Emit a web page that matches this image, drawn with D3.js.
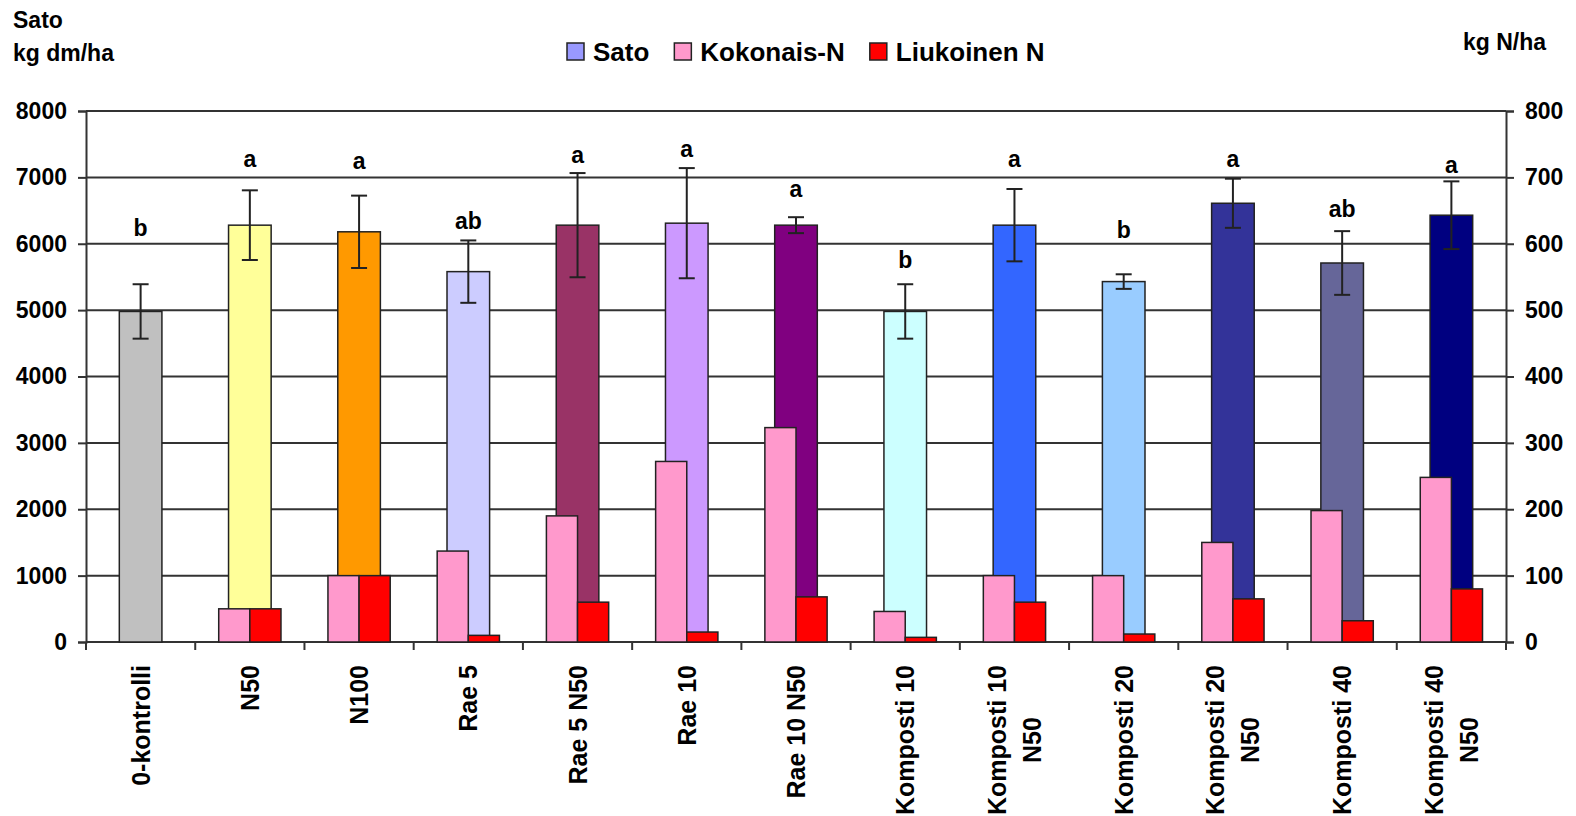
<!DOCTYPE html>
<html>
<head>
<meta charset="utf-8">
<script src="https://cdn.jsdelivr.net/npm/d3@7"></script>
<style>
  body { margin: 0; background: #fff; }
  text { font-family: "Liberation Sans", Arial, sans-serif; font-weight: bold; fill: #000; }
</style>
</head>
<body>
<svg id="chart" width="1576" height="816"></svg>
<script>
// treatments (x labels, "|" = line break)
var treatments = ["0-kontrolli", "N50", "N100", "Rae 5", "Rae 5 N50", "Rae 10", "Rae 10 N50",
  "Komposti 10", "Komposti 10|N50", "Komposti 20", "Komposti 20|N50", "Komposti 40", "Komposti 40|N50"];

// yield, kg dm/ha (left axis)
var sato = [4980, 6280, 6180, 5580, 6280, 6310, 6280, 4980, 6280, 5430, 6610, 5710, 6430];
var satoErr = [410, 525, 545, 470, 785, 830, 120, 410, 545, 110, 370, 480, 510];
var letters = ["b", "a", "a", "ab", "a", "a", "a", "b", "a", "b", "a", "ab", "a"];
var letterAt = [6230, 7280, 7250, 6350, 7340, 7430, 6830, 5750, 7280, 6210, 7280, 6530, 7190];

// nitrogen, kg N/ha (right axis)
var kokonaisN = [0, 50, 100, 137, 190, 272, 323, 46, 100, 100, 150, 198, 248];
var liukoinenN = [0, 50, 100, 10, 60, 15, 68, 7, 60, 12, 65, 32, 80];

var satoColors = ["#C0C0C0", "#FFFF99", "#FF9900", "#CCCCFF", "#993366", "#CC99FF", "#800080",
  "#CCFFFF", "#3366FF", "#99CCFF", "#333399", "#666699", "#000080"];

var leftTicks = [0, 1000, 2000, 3000, 4000, 5000, 6000, 7000, 8000];
var rightTicks = [0, 100, 200, 300, 400, 500, 600, 700, 800];

var svg = d3.select("#chart");
var plotLeft = 86, plotRight = 1506, plotTop = 111, plotBottom = 642;

var x = d3.scaleBand().domain(d3.range(treatments.length)).range([plotLeft, plotRight]).padding(0);
var y = d3.scaleLinear().domain([0, 8000]).range([plotBottom, plotTop]);
var y2 = d3.scaleLinear().domain([0, 800]).range([plotBottom, plotTop]);
var bw = x.bandwidth();
var satoW = bw * 0.39, nW = bw * 0.285;

// gridlines
svg.append("g").selectAll("line").data(leftTicks.slice(1)).enter().append("line")
  .attr("x1", plotLeft).attr("x2", plotRight)
  .attr("y1", function(d) { return y(d); }).attr("y2", function(d) { return y(d); })
  .attr("stroke", "#333").attr("stroke-width", 2);

// left axis
var gl = svg.append("g").attr("transform", "translate(" + plotLeft + ",0)")
  .call(d3.axisLeft(y).tickValues(leftTicks).tickFormat(d3.format("d")).tickSize(8).tickPadding(11));
gl.select(".domain").attr("stroke", "#333").attr("stroke-width", 2);
gl.selectAll(".tick line").attr("stroke", "#333").attr("stroke-width", 2);
gl.selectAll(".tick text").style("font-size", "23px").attr("font-family", null);

// right axis
var gr = svg.append("g").attr("transform", "translate(" + plotRight + ",0)")
  .call(d3.axisRight(y2).tickValues(rightTicks).tickFormat(d3.format("d")).tickSize(8).tickPadding(11));
gr.select(".domain").attr("stroke", "#333").attr("stroke-width", 2);
gr.selectAll(".tick line").attr("stroke", "#333").attr("stroke-width", 2);
gr.selectAll(".tick text").style("font-size", "23px").attr("font-family", null);

// bottom axis line + ticks at band edges
svg.append("line").attr("x1", plotLeft).attr("x2", plotRight).attr("y1", plotBottom).attr("y2", plotBottom)
  .attr("stroke", "#333").attr("stroke-width", 2);
svg.append("g").selectAll("line").data(d3.range(treatments.length + 1)).enter().append("line")
  .attr("x1", function(d) { return plotLeft + d * bw; }).attr("x2", function(d) { return plotLeft + d * bw; })
  .attr("y1", plotBottom).attr("y2", plotBottom + 8)
  .attr("stroke", "#333").attr("stroke-width", 2);

// sato bars
svg.append("g").selectAll("rect").data(sato).enter().append("rect")
  .attr("x", function(d, i) { return x(i) + bw / 2 - satoW / 2; })
  .attr("y", function(d) { return y(d); })
  .attr("width", satoW)
  .attr("height", function(d) { return plotBottom - y(d); })
  .attr("fill", function(d, i) { return satoColors[i]; })
  .attr("stroke", "#222").attr("stroke-width", 1.5);

// error bars
var eb = svg.append("g").attr("stroke", "#222").attr("stroke-width", 2);
sato.forEach(function(v, i) {
  var cx = x(i) + bw / 2;
  eb.append("line").attr("x1", cx).attr("x2", cx).attr("y1", y(v + satoErr[i])).attr("y2", y(v - satoErr[i]));
  eb.append("line").attr("x1", cx - 8).attr("x2", cx + 8).attr("y1", y(v + satoErr[i])).attr("y2", y(v + satoErr[i]));
  eb.append("line").attr("x1", cx - 8).attr("x2", cx + 8).attr("y1", y(v - satoErr[i])).attr("y2", y(v - satoErr[i]));
});

// nitrogen bars (pink left of centre, red right of centre)
function nBars(values, fill, offset) {
  var rows = values.map(function(v, i) { return {v: v, i: i}; }).filter(function(r) { return r.v > 0; });
  svg.append("g").selectAll("rect").data(rows).enter().append("rect")
    .attr("x", function(r) { return x(r.i) + bw / 2 + offset; })
    .attr("y", function(r) { return y2(r.v); })
    .attr("width", nW)
    .attr("height", function(r) { return plotBottom - y2(r.v); })
    .attr("fill", fill).attr("stroke", "#222").attr("stroke-width", 1.5);
}
nBars(kokonaisN, "#FF99CC", -nW);
nBars(liukoinenN, "#FF0000", 0);

// significance letters
svg.append("g").selectAll("text").data(letters).enter().append("text")
  .attr("x", function(d, i) { return x(i) + bw / 2; })
  .attr("y", function(d, i) { return y(letterAt[i]); })
  .attr("text-anchor", "middle").attr("dominant-baseline", "central")
  .style("font-size", "23px")
  .text(function(d) { return d; });

// x labels, rotated
treatments.forEach(function(t, i) {
  var lines = t.split("|");
  var g = svg.append("g").attr("transform", "translate(" + (x(i) + bw / 2) + "," + (plotBottom + 23) + ") rotate(-90)");
  var texts = lines.map(function(l, k) {
    return g.append("text").attr("dominant-baseline", "central")
      .attr("y", (k - (lines.length - 1) / 2) * 35)
      .style("font-size", "25px").text(l);
  });
  var maxLen = d3.max(texts, function(s) { return s.node().getComputedTextLength(); });
  texts.forEach(function(s) {
    s.attr("text-anchor", "middle").attr("x", -maxLen / 2);
  });
});

// axis titles
svg.append("text").attr("x", 13).attr("y", 28).style("font-size", "23px").text("Sato");
svg.append("text").attr("x", 13).attr("y", 61).style("font-size", "23px").text("kg dm/ha");
svg.append("text").attr("x", 1463).attr("y", 50).style("font-size", "23px").text("kg N/ha");

// legend
var legendItems = [["Sato", "#9999FF"], ["Kokonais-N", "#FF99CC"], ["Liukoinen N", "#FF0000"]];
var lx = 567;
legendItems.forEach(function(it) {
  svg.append("rect").attr("x", lx).attr("y", 43).attr("width", 17).attr("height", 17)
    .attr("fill", it[1]).attr("stroke", "#222").attr("stroke-width", 1.5);
  var t = svg.append("text").attr("x", lx + 26).attr("y", 61).style("font-size", "26px").text(it[0]);
  lx = lx + 26 + t.node().getComputedTextLength() + 25;
});
</script>
</body>
</html>
